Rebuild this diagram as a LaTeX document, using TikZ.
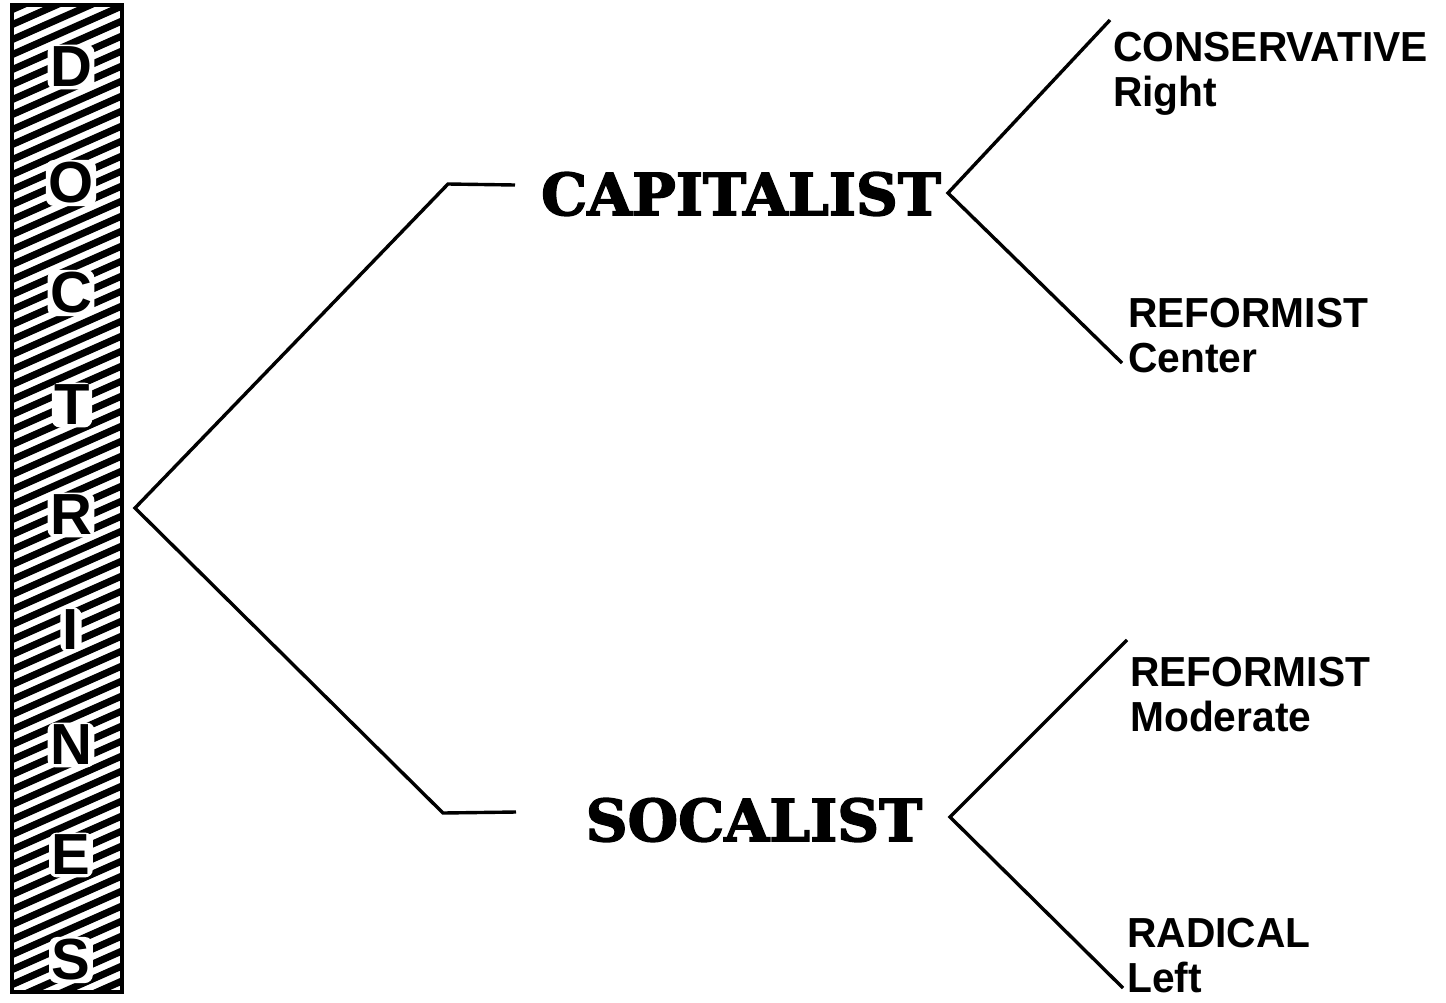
\documentclass[tikz,border=0pt]{standalone}
\usepackage{fontspec}
\setmainfont{Liberation Sans}
\newfontfamily\slabfont{DejaVu Serif}[BoldFeatures={FakeBold=2.5}]
\newfontfamily\leaffont{Liberation Sans}[FakeStretch=0.97]
\newfontfamily\barfont{Liberation Sans}
\begin{document}
\begin{tikzpicture}[x=1pt,y=-1pt,
  conn/.style={line width=3.4pt, line join=miter},
  hatchline/.style={line width=7pt},
  barletter/.style={font=\barfont\bfseries\fontsize{58}{58}\selectfont, text=black, inner sep=2.5pt, fill=white, rounded corners=8pt},
  heading/.style={font=\slabfont\bfseries\fontsize{58}{58}\selectfont, inner sep=0pt},
  leaf/.style={font=\leaffont\bfseries\fontsize{42}{45}\selectfont, align=left, anchor=north west, inner sep=0pt}]
\useasboundingbox (0,0) rectangle (1446,1002);

% hatched bar
\begin{scope}
  \clip (12,5) rectangle (122,992);
  \foreach \yy in {0,15,...,1080} \draw[hatchline] (0,\yy) -- (140,\yy-62);
\end{scope}
\node[draw, line width=4.5pt, minimum width=110pt, minimum height=987pt, inner sep=0pt] (bar) at (67,498.5) {};

\node[barletter] (lD) at (71,67) {D};
\node[barletter] (lO) at (71,183) {O};
\node[barletter] (lC) at (71,293) {C};
\node[barletter] (lT) at (72,405) {T};
\node[barletter] (lR) at (71,515) {R};
\node[barletter] (lI) at (71,630) {I};
\node[barletter] (lN) at (71,745) {N};
\node[barletter] (lE) at (71,855) {E};
\node[barletter] (lS) at (71,960) {S};

% headings
\node[heading] (cap) at (741,194) {CAPITALIST};
\node[heading] (soc) at (754,820) {SOCALIST};

% leaves
\node[leaf] (cons) at (1113,32) {CONSERVATIVE\\Right};
\node[leaf] (refc) at (1128,298) {REFORMIST\\Center};
\node[leaf] (refm) at (1130,657) {REFORMIST\\Moderate};
\node[leaf] (rad) at (1127,918) {RADICAL\\Left};

% connector points
\coordinate (dfork) at (135,508);
\coordinate (capknee) at (448,184);
\coordinate (capstub) at (515,185);
\coordinate (socknee) at (443,813);
\coordinate (socstub) at (516,812);
\coordinate (capfork) at (948,193);
\coordinate (consend) at (1110,20);
\coordinate (refcend) at (1122,363);
\coordinate (socfork) at (950,817);
\coordinate (refmend) at (1127,640);
\coordinate (radend) at (1123,988);

\draw[conn] (capstub) -- (capknee) -- (dfork) -- (socknee) -- (socstub);
\draw[conn] (consend) -- (capfork) -- (refcend);
\draw[conn] (refmend) -- (socfork) -- (radend);
\end{tikzpicture}
\end{document}
